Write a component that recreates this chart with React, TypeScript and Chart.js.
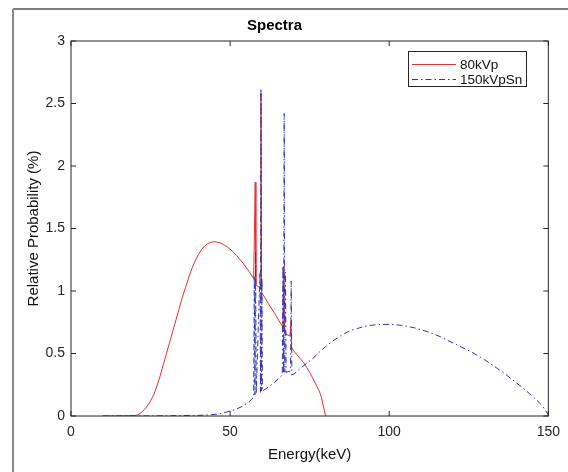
import React, { useEffect, useRef } from "react";
import { Chart, registerables } from "chart.js";

Chart.register(...registerables);

// ---- Data ----
const chartTitle = "Spectra";
const xAxisTitle = "Energy(keV)";
const yAxisTitle = "Relative Probability (%)";
const seriesNames = ["80kVp", "150kVpSn"];

const xTickValues = [0, 50, 100, 150];
const xTickLabels = ["0", "50", "100", "150"];
const yTickValues = [0, 0.5, 1, 1.5, 2, 2.5, 3];
const yTickLabels = ["0", "0.5", "1", "1.5", "2", "2.5", "3"];

const energy80 = [
  10, 15, 20, 21, 22, 23, 24, 25, 26, 27,
  28, 29, 30, 31, 32, 33, 34, 35, 36, 37,
  38, 39, 40, 41, 42, 43, 44, 45, 46, 47,
  48, 49, 50, 51, 52, 53, 54, 55, 56, 57.4,
  57.9, 58.1, 59.5, 59.7, 59.9, 62, 64, 66.6, 66.9, 67.1,
  68.8, 69.1, 69.3, 70, 71, 72, 73, 74, 75, 76,
  77, 78, 78.7, 79.3, 80,
];
const prob80 = [
  0, 0, 0.003, 0.01, 0.025, 0.05, 0.08, 0.12, 0.17, 0.24,
  0.32, 0.41, 0.5, 0.59, 0.68, 0.77, 0.86, 0.95, 1.03, 1.11,
  1.18, 1.24, 1.29, 1.33, 1.36, 1.38, 1.39, 1.395, 1.39, 1.385,
  1.37, 1.355, 1.335, 1.31, 1.285, 1.255, 1.225, 1.19, 1.155, 1.1,
  1.87, 1.05, 1.02, 2.58, 0.99, 0.9, 0.82, 0.71, 1.2, 0.66,
  0.64, 0.75, 0.55, 0.52, 0.49, 0.46, 0.43, 0.39, 0.35, 0.3,
  0.25, 0.2, 0.15, 0.08, 0,
];

const energy150 = [
  10, 20, 30, 40, 44, 46, 48, 50, 52, 54,
  56, 57.4, 57.6, 57.8, 58.0, 58.2, 59.4, 59.55, 59.7, 59.85,
  60.0, 60.15, 62, 64, 66.4, 66.6, 66.8, 67.0, 67.2, 67.4,
  67.6, 69.0, 69.2, 69.4, 70.3, 72, 74, 76, 78, 80,
  82, 84, 86, 88, 90, 92, 94, 96, 98, 100,
  102, 104, 106, 108, 110, 112, 114, 116, 118, 120,
  122, 124, 126, 128, 130, 132, 134, 136, 138, 140,
  142, 144, 146, 148, 150,
];
const prob150 = [
  0, 0, 0.002, 0.005, 0.01, 0.015, 0.025, 0.04, 0.055, 0.08,
  0.115, 0.15, 1.12, 0.17, 1.32, 0.18, 1.15, 0.19, 2.62, 0.2,
  1.1, 0.2, 0.23, 0.27, 0.33, 1.2, 0.34, 2.42, 0.35, 1.15,
  0.35, 0.36, 1.08, 0.33, 0.34, 0.38, 0.42, 0.46, 0.51, 0.555,
  0.595, 0.63, 0.66, 0.685, 0.7, 0.715, 0.725, 0.73, 0.733, 0.733,
  0.73, 0.725, 0.715, 0.705, 0.69, 0.675, 0.655, 0.635, 0.61, 0.585,
  0.56, 0.535, 0.51, 0.48, 0.45, 0.415, 0.38, 0.345, 0.305, 0.265,
  0.225, 0.18, 0.135, 0.085, 0.01,
];

// ---- Styles ----
const RED = "rgb(225, 50, 50)";
const BLUE = "rgb(50, 50, 175)";
const DASH_DOT = [6, 3, 1.5, 3];
const FONT = "'Liberation Sans', Arial, Helvetica, sans-serif";
const AXIS_COLOR = "#262626";

const framePlugin = {
  id: "figureFrame",
  beforeDraw(chart: any) {
    const ctx = chart.ctx;
    ctx.save();
    ctx.fillStyle = "#ffffff";
    ctx.fillRect(0, 0, chart.width, chart.height);
    ctx.strokeStyle = "#555";
    ctx.lineWidth = 1.5;
    ctx.beginPath();
    ctx.moveTo(chart.width, 9);
    ctx.lineTo(13, 9);
    ctx.stroke();
    ctx.strokeStyle = "#8a8a8a";
    ctx.lineWidth = 2;
    ctx.beginPath();
    ctx.moveTo(13, 9);
    ctx.lineTo(13, chart.height);
    ctx.stroke();
    ctx.restore();
  },
};

const boxPlugin = {
  id: "matlabBox",
  afterDatasetsDraw(chart: any) {
    const { ctx, chartArea } = chart;
    const { left, right, top, bottom } = chartArea;
    const xs = chart.scales.x;
    const ys = chart.scales.y;
    ctx.save();
    ctx.strokeStyle = AXIS_COLOR;
    ctx.lineWidth = 1;
    ctx.strokeRect(left, top, right - left, bottom - top);
    const tl = 5;
    ctx.beginPath();
    xTickValues.forEach((v) => {
      const px = xs.getPixelForValue(v);
      ctx.moveTo(px, bottom);
      ctx.lineTo(px, bottom - tl);
      ctx.moveTo(px, top);
      ctx.lineTo(px, top + tl);
    });
    yTickValues.forEach((v) => {
      const py = ys.getPixelForValue(v);
      ctx.moveTo(left, py);
      ctx.lineTo(left + tl, py);
      ctx.moveTo(right, py);
      ctx.lineTo(right - tl, py);
    });
    ctx.stroke();

    // legend
    const bx = 408, by = 51, bw = 118, bh = 35;
    ctx.fillStyle = "#fff";
    ctx.fillRect(bx, by, bw, bh);
    ctx.strokeStyle = AXIS_COLOR;
    ctx.strokeRect(bx + 0.5, by + 0.5, bw, bh);
    const rows = [
      { name: seriesNames[0], color: RED, dash: [] as number[], y: by + 13 },
      { name: seriesNames[1], color: BLUE, dash: DASH_DOT, y: by + 28 },
    ];
    ctx.font = `13.5px ${FONT}`;
    ctx.textBaseline = "middle";
    ctx.textAlign = "left";
    rows.forEach((r) => {
      ctx.strokeStyle = r.color;
      ctx.lineWidth = 1;
      ctx.setLineDash(r.dash);
      ctx.beginPath();
      ctx.moveTo(bx + 4, r.y + 0.5);
      ctx.lineTo(bx + 48, r.y + 0.5);
      ctx.stroke();
      ctx.setLineDash([]);
      ctx.fillStyle = "#111";
      ctx.fillText(r.name, bx + 52, r.y + 1);
    });
    ctx.restore();
  },
};

export default function App() {
  const canvasRef = useRef<HTMLCanvasElement | null>(null);

  useEffect(() => {
    const canvas = canvasRef.current;
    if (!canvas) return;
    const chart = new Chart(canvas, {
      type: "line",
      data: {
        datasets: [
          {
            label: seriesNames[0],
            data: energy80.map((e, i) => ({ x: e, y: prob80[i] })),
            borderColor: RED,
            backgroundColor: RED,
            borderWidth: 1,
            pointRadius: 0,
            tension: 0,
            order: 1,
          },
          {
            label: seriesNames[1],
            data: energy150.map((e, i) => ({ x: e, y: prob150[i] })),
            borderColor: BLUE,
            backgroundColor: BLUE,
            borderWidth: 1,
            borderDash: DASH_DOT,
            pointRadius: 0,
            tension: 0,
            order: 0,
          },
        ],
      },
      options: {
        animation: false,
        responsive: false,
        devicePixelRatio: 1,
        layout: { padding: { left: 0, right: 19, top: 0, bottom: 0 } },
        plugins: {
          legend: { display: false },
          tooltip: { enabled: false },
          title: {
            display: true,
            text: chartTitle,
            color: "#000",
            font: { family: FONT, size: 15, weight: "bold" },
            padding: { top: 17, bottom: 6 },
          },
        },
        scales: {
          x: {
            type: "linear",
            min: 0,
            max: 150,
            afterBuildTicks: (scale: any) => {
              scale.ticks = xTickValues.map((v) => ({ value: v }));
            },
            afterFit: (scale: any) => {
              scale.height = 56;
            },
            grid: { display: false, drawTicks: false },
            border: { display: false },
            ticks: {
              color: AXIS_COLOR,
              font: { family: FONT, size: 14 },
              padding: 8,
              maxRotation: 0,
              callback: (v: any) => {
                const i = xTickValues.indexOf(Number(v));
                return i >= 0 ? xTickLabels[i] : "";
              },
            },
            title: {
              display: true,
              text: xAxisTitle,
              color: "#111",
              font: { family: FONT, size: 15 },
              padding: { top: 0, bottom: 8 },
            },
          },
          y: {
            type: "linear",
            min: 0,
            max: 3,
            afterBuildTicks: (scale: any) => {
              scale.ticks = yTickValues.map((v) => ({ value: v }));
            },
            afterFit: (scale: any) => {
              scale.width = 71;
            },
            grid: { display: false, drawTicks: false },
            border: { display: false },
            ticks: {
              color: AXIS_COLOR,
              font: { family: FONT, size: 14 },
              padding: 6,
              callback: (v: any) => {
                const i = yTickValues.indexOf(Number(v));
                return i >= 0 ? yTickLabels[i] : "";
              },
            },
            title: {
              display: true,
              text: yAxisTitle,
              color: "#111",
              font: { family: FONT, size: 15 },
              padding: { top: 25, bottom: 0 },
            },
          },
        },
      },
      plugins: [framePlugin, boxPlugin],
    });
    return () => chart.destroy();
  }, []);

  return (
    <div style={{ position: "fixed", left: 0, top: 0, width: 568, height: 472, background: "#fff" }}>
      <canvas ref={canvasRef} width={568} height={472} style={{ display: "block", width: 568, height: 472 }} />
    </div>
  );
}
